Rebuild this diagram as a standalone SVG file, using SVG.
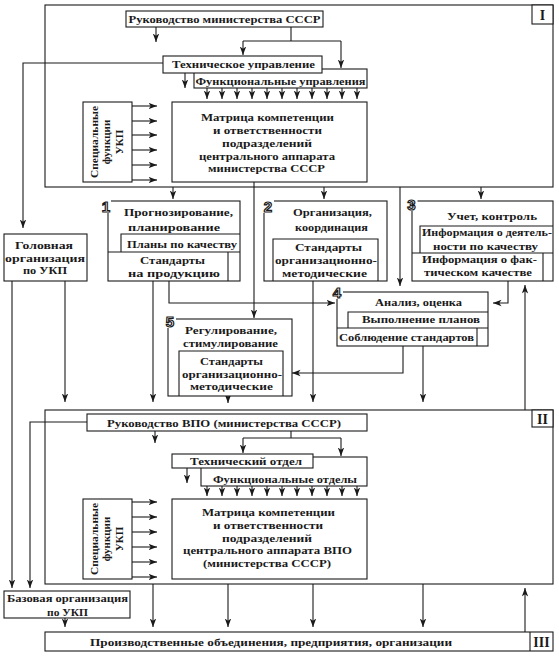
<svg xmlns="http://www.w3.org/2000/svg" width="559" height="662" viewBox="0 0 559 662">
<defs>
<marker id="ah" markerUnits="userSpaceOnUse" markerWidth="10" markerHeight="8" refX="8.5" refY="3.5" orient="auto">
<path d="M0,0.3 L8.5,3.5 L0,6.7 L2.2,3.5 Z" fill="#1a1a1a"/>
</marker>
</defs>
<style>
.b{fill:#fff;stroke:#1a1a1a;stroke-width:1.1}
.n{fill:none;stroke:#1a1a1a;stroke-width:1.1}
text{font-family:"Liberation Serif","DejaVu Serif","Times New Roman",serif;font-weight:bold;font-size:11px;fill:#1a1a1a;text-anchor:middle}
.num{font-family:"Liberation Sans",Arial,sans-serif;font-size:15px;fill:#fff;stroke:#1a1a1a;stroke-width:1.2}
.rn{font-size:14px}
#connectors path{fill:none;stroke:#1a1a1a;stroke-width:1.1}
#connectors .a{marker-end:url(#ah)}
</style>
<rect width="559" height="662" fill="#fff"/>

<g id="frame-I">
<rect class="b" x="45" y="5" width="508" height="182"/>
<rect class="b" x="532" y="5" width="21" height="19"/>
<text class="rn" x="542.5" y="20">I</text>
</g>
<g id="frame-II">
<rect class="b" x="45" y="410" width="508" height="174"/>
<rect class="b" x="532" y="410" width="21" height="17"/>
<text class="rn" x="542.5" y="424">II</text>
</g>

<g id="connectors">
<path class="a" d="M156,27 V42"/>
<path d="M291,27 V41 M243,41 H341"/>
<path class="a" d="M243,41 V55"/>
<path class="a" d="M341,41 V68"/>
<path class="a" d="M185,73 V88"/>
<path class="a" d="M207,88 V99"/><path class="a" d="M222,88 V99"/><path class="a" d="M237,88 V99"/><path class="a" d="M252,88 V99"/><path class="a" d="M267,88 V99"/><path class="a" d="M282,88 V99"/><path class="a" d="M297,88 V99"/><path class="a" d="M312,88 V99"/><path class="a" d="M327,88 V99"/><path class="a" d="M342,88 V99"/><path class="a" d="M357,88 V99"/>
<path class="a" d="M132,106 H157"/><path class="a" d="M132,121 H157"/><path class="a" d="M132,135 H157"/><path class="a" d="M132,150 H157"/><path class="a" d="M132,165 H157"/><path class="a" d="M132,180 H157"/>
<path class="a" d="M163,63 H23 V228"/>
<path class="a" d="M173,187 V199"/>
<path class="a" d="M254,182 V318"/>
<path class="a" d="M324,187 V199"/>
<path class="a" d="M400,187 V286"/>
<path class="a" d="M481,187 V199"/>
<path class="a" d="M169,281 V303 H335"/>
<path class="a" d="M508,281 V303 H493"/>
<path class="a" d="M403,346 V373 H292"/>
<path class="a" d="M423,346 V402"/>
<path class="a" d="M313,281 V402"/>
<path class="a" d="M153,281 V402"/>
<path class="a" d="M228,396 V403"/>
<path class="a" d="M65,281 V402"/>
<path class="a" d="M12,281 V588"/>
<path class="a" d="M525,410 V285"/>
<path class="a" d="M155,431 V443"/>
<path d="M291,431 V438 M243,438 H341"/>
<path class="a" d="M243,438 V453"/>
<path class="a" d="M341,438 V456"/>
<path class="a" d="M187,468 V483"/>
<path class="a" d="M207,486 V496"/><path class="a" d="M222,486 V496"/><path class="a" d="M237,486 V496"/><path class="a" d="M252,486 V496"/><path class="a" d="M267,486 V496"/><path class="a" d="M282,486 V496"/><path class="a" d="M297,486 V496"/><path class="a" d="M312,486 V496"/><path class="a" d="M327,486 V496"/><path class="a" d="M342,486 V496"/><path class="a" d="M357,486 V496"/>
<path class="a" d="M132,502 H157"/><path class="a" d="M132,517 H157"/><path class="a" d="M132,532 H157"/><path class="a" d="M132,547 H157"/><path class="a" d="M132,562 H157"/><path class="a" d="M132,577 H157"/>
<path class="a" d="M87,422 H30 V588"/>
<path class="a" d="M153,584 V627"/>
<path class="a" d="M228,584 V627"/>
<path class="a" d="M313,584 V627"/>
<path class="a" d="M423,584 V627"/>
<path class="a" d="M65,618 V627"/>
<path class="a" d="M525,632 V588"/>
</g>

<g id="ministry-leadership">
<rect class="b" x="126" y="11" width="197" height="16"/>
<text x="224.5" y="23" textLength="192" lengthAdjust="spacingAndGlyphs">Руководство министерства СССР</text>
</g>
<g id="functional-departments-I">
<rect class="b" x="194" y="69" width="173" height="19"/>
<text x="280.5" y="85" textLength="170" lengthAdjust="spacingAndGlyphs">Функциональные управления</text>
</g>
<g id="technical-department-I">
<rect class="b" x="163" y="56" width="159" height="17"/>
<text x="243.5" y="68" textLength="143" lengthAdjust="spacingAndGlyphs">Техническое управление</text>
</g>
<g id="matrix-I">
<rect class="b" x="172" y="102" width="195" height="80"/>
<text x="267.5" y="121" textLength="133" lengthAdjust="spacingAndGlyphs">Матрица компетенции</text>
<text x="267.5" y="134" textLength="109" lengthAdjust="spacingAndGlyphs">и ответственности</text>
<text x="267" y="147" textLength="90" lengthAdjust="spacingAndGlyphs">подразделений</text>
<text x="267" y="159.5" textLength="136" lengthAdjust="spacingAndGlyphs">центрального аппарата</text>
<text x="266.5" y="172" textLength="117" lengthAdjust="spacingAndGlyphs">министерства СССР</text>
</g>
<g id="special-functions-I">
<rect class="b" x="83" y="102" width="49" height="80"/>
<text transform="translate(97.5,142) rotate(-90)" textLength="72" lengthAdjust="spacingAndGlyphs">Специальные</text>
<text transform="translate(110,142) rotate(-90)">функции</text>
<text transform="translate(122.5,142) rotate(-90)">УКП</text>
</g>
<g id="head-organization">
<rect class="b" x="4" y="234" width="83" height="47"/>
<text x="44" y="249" textLength="58" lengthAdjust="spacingAndGlyphs">Головная</text>
<text x="45" y="261.5" textLength="80" lengthAdjust="spacingAndGlyphs">организация</text>
<text x="45" y="274" textLength="44" lengthAdjust="spacingAndGlyphs">по УКП</text>
</g>
<g id="block-1">
<rect class="b" x="108" y="201" width="132" height="80"/>
<path class="n" d="M121,252 V234 H240 M108,252 H240 M228,252 V281"/>
<text x="178.5" y="216" textLength="109" lengthAdjust="spacingAndGlyphs">Прогнозирование,</text>
<text x="174" y="230.5" textLength="92" lengthAdjust="spacingAndGlyphs">планирование</text>
<text x="182" y="247.5" textLength="110" lengthAdjust="spacingAndGlyphs">Планы по качеству</text>
<text x="172.5" y="264" textLength="65" lengthAdjust="spacingAndGlyphs">Стандарты</text>
<text x="174" y="276.5" textLength="92" lengthAdjust="spacingAndGlyphs">на продукцию</text>
<rect x="101" y="198" width="10" height="15" fill="#fff"/>
<text class="num" x="106" y="212">1</text>
</g>
<g id="block-2">
<rect class="b" x="264" y="201" width="123" height="80"/>
<path class="n" d="M273,281 V239 H378 V281"/>
<text x="332.5" y="216" textLength="79" lengthAdjust="spacingAndGlyphs">Организация,</text>
<text x="331.5" y="230.5" textLength="73" lengthAdjust="spacingAndGlyphs">координация</text>
<text x="328.5" y="251" textLength="67" lengthAdjust="spacingAndGlyphs">Стандарты</text>
<text x="326" y="264" textLength="102" lengthAdjust="spacingAndGlyphs">организационно-</text>
<text x="324.5" y="277" textLength="85" lengthAdjust="spacingAndGlyphs">методические</text>
<rect x="262" y="198" width="12" height="15" fill="#fff"/>
<text class="num" x="268" y="212">2</text>
</g>
<g id="block-3">
<rect class="b" x="412" y="201" width="141" height="80"/>
<path class="n" d="M420,253 V226 H553 M412,253 H553 M543,253 V281"/>
<text x="492" y="220" textLength="90" lengthAdjust="spacingAndGlyphs">Учет, контроль</text>
<text x="487" y="236" textLength="130" lengthAdjust="spacingAndGlyphs">Информация о деятель-</text>
<text x="485.5" y="249.5" textLength="105" lengthAdjust="spacingAndGlyphs">ности по качеству</text>
<text x="479.5" y="263" textLength="115" lengthAdjust="spacingAndGlyphs">Информация о фак-</text>
<text x="478" y="276" textLength="108" lengthAdjust="spacingAndGlyphs">тическом качестве</text>
<rect x="405.5" y="196" width="12" height="15" fill="#fff"/>
<text class="num" x="411.5" y="210">3</text>
</g>
<g id="block-4">
<rect class="b" x="337" y="292" width="151" height="54"/>
<path class="n" d="M348,328 V312 H488 M337,328 H488 M477,328 V346"/>
<text x="418.5" y="306" textLength="87" lengthAdjust="spacingAndGlyphs">Анализ, оценка</text>
<text x="421" y="323" textLength="118" lengthAdjust="spacingAndGlyphs">Выполнение планов</text>
<text x="406.5" y="341" textLength="135" lengthAdjust="spacingAndGlyphs">Соблюдение стандартов</text>
<rect x="331" y="285" width="12" height="14" fill="#fff"/>
<text class="num" x="337" y="298">4</text>
</g>
<g id="block-5">
<rect class="b" x="168" y="319" width="124" height="77"/>
<path class="n" d="M179,396 V351 H283 V396"/>
<text x="231" y="334" textLength="92" lengthAdjust="spacingAndGlyphs">Регулирование,</text>
<text x="230.5" y="347" textLength="95" lengthAdjust="spacingAndGlyphs">стимулирование</text>
<text x="231.5" y="365" textLength="63" lengthAdjust="spacingAndGlyphs">Стандарты</text>
<text x="232" y="377.5" textLength="100" lengthAdjust="spacingAndGlyphs">организационно-</text>
<text x="231.5" y="390" textLength="83" lengthAdjust="spacingAndGlyphs">методические</text>
<rect x="164" y="313" width="12" height="15" fill="#fff"/>
<text class="num" x="170" y="327">5</text>
</g>

<g id="vpo-leadership">
<rect class="b" x="87" y="414" width="280" height="17"/>
<text x="224" y="426.5" textLength="234" lengthAdjust="spacingAndGlyphs">Руководство ВПО (министерства СССР)</text>
</g>
<g id="functional-departments-II">
<rect class="b" x="201" y="457" width="166" height="29"/>
<text x="285" y="483" textLength="144" lengthAdjust="spacingAndGlyphs">Функциональные отделы</text>
</g>
<g id="technical-department-II">
<rect class="b" x="172" y="454" width="141" height="14"/>
<text x="246" y="464.5" textLength="112" lengthAdjust="spacingAndGlyphs">Технический отдел</text>
</g>
<g id="matrix-II">
<rect class="b" x="172" y="499" width="195" height="80"/>
<text x="268.5" y="516" textLength="133" lengthAdjust="spacingAndGlyphs">Матрица компетенции</text>
<text x="268" y="529" textLength="110" lengthAdjust="spacingAndGlyphs">и ответственности</text>
<text x="267" y="541.5" textLength="90" lengthAdjust="spacingAndGlyphs">подразделений</text>
<text x="267.5" y="554" textLength="169" lengthAdjust="spacingAndGlyphs">центрального аппарата ВПО</text>
<text x="267" y="567" textLength="128" lengthAdjust="spacingAndGlyphs">(министерства СССР)</text>
</g>
<g id="special-functions-II">
<rect class="b" x="83" y="499" width="49" height="80"/>
<text transform="translate(97.5,539) rotate(-90)" textLength="72" lengthAdjust="spacingAndGlyphs">Специальные</text>
<text transform="translate(110,539) rotate(-90)">функции</text>
<text transform="translate(122.5,539) rotate(-90)">УКП</text>
</g>
<g id="base-organization">
<rect class="b" x="4" y="591" width="126" height="27"/>
<text x="67.5" y="601.5" textLength="121" lengthAdjust="spacingAndGlyphs">Базовая организация</text>
<text x="67.5" y="615.5" textLength="41" lengthAdjust="spacingAndGlyphs">по УКП</text>
</g>
<g id="frame-III">
<rect class="b" x="45" y="632" width="508" height="19"/>
<path class="n" d="M530,632 V651"/>
<text x="271" y="646" textLength="362" lengthAdjust="spacingAndGlyphs">Производственные объединения, предприятия, организации</text>
<text class="rn" x="541.5" y="646.5">III</text>
</g>
</svg>
